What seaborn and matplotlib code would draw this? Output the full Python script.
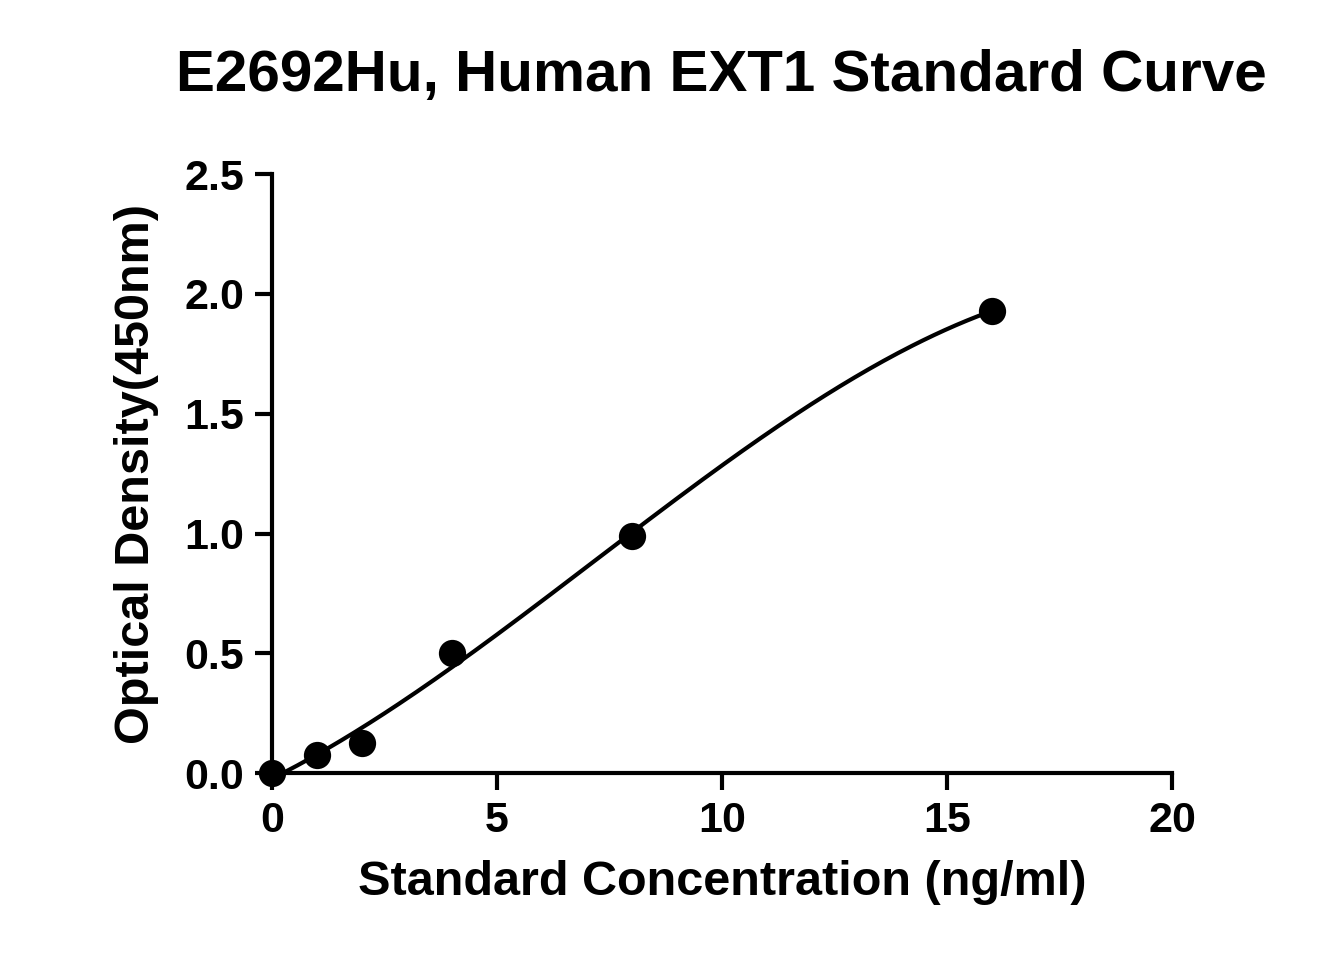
import numpy as np
import matplotlib
matplotlib.use("Agg")
import matplotlib.pyplot as plt
import seaborn as sns
import pandas as pd

conc = [0, 1, 2, 4, 8, 16]
od = [0.0, 0.075, 0.125, 0.50, 0.99, 1.93]
title = "E2692Hu, Human EXT1 Standard Curve"
xlabel = "Standard Concentration (ng/ml)"
ylabel = "Optical Density(450nm)"

sns.set_style("ticks")
plt.rcParams['font.family'] = ['Liberation Sans', 'DejaVu Sans']
plt.rcParams['text.color'] = 'black'
plt.rcParams['axes.labelcolor'] = 'black'
plt.rcParams['xtick.color'] = 'black'
plt.rcParams['ytick.color'] = 'black'
plt.rcParams['axes.edgecolor'] = 'black'

fig = plt.figure(figsize=(13.35, 9.75), dpi=100)
ax = fig.add_axes([0.2037, 0.207, 0.6742, 0.6145])

coef = np.polyfit(conc, od, 3)
xs = np.linspace(0, 16, 200)
fit = pd.DataFrame({"x": xs, "y": np.polyval(coef, xs)})
sns.lineplot(data=fit, x="x", y="y", ax=ax, color="black", linewidth=3)
sns.scatterplot(x=conc, y=od, ax=ax, color="black", s=330, edgecolor="black", zorder=5, clip_on=False)

ax.set_xlim(0, 20)
ax.set_ylim(0, 2.5)
ax.set_xticks([0, 5, 10, 15, 20])
ax.set_yticks([0, 0.5, 1.0, 1.5, 2.0, 2.5])
ax.set_yticklabels(["0.0", "0.5", "1.0", "1.5", "2.0", "2.5"])
sns.despine(ax=ax)
for s in ["left", "bottom"]:
    ax.spines[s].set_linewidth(3)
ax.tick_params(width=3, length=12, labelsize=31, pad=8, colors="black")
for t in ax.get_xticklabels() + ax.get_yticklabels():
    t.set_fontweight("bold")
ax.set_xlabel(xlabel, fontsize=35, fontweight="bold", labelpad=14)
ax.set_ylabel(ylabel, fontsize=35, fontweight="bold", labelpad=18)
fig.text(0.54, 0.922, title, ha="center", va="center", fontsize=42, fontweight="bold")
fig.savefig("out.png", dpi=100)
